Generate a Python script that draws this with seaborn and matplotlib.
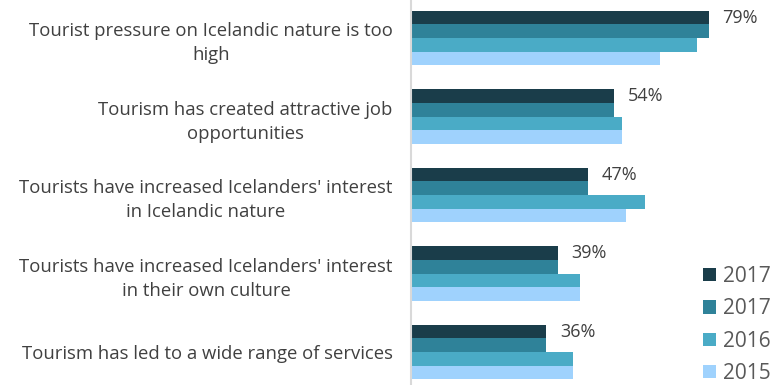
import pandas as pd
import matplotlib.pyplot as plt
import seaborn as sns
from matplotlib.patches import Patch

# statements (y categories)
statements = [
    "Tourist pressure on Icelandic nature is too\nhigh",
    "Tourism has created attractive job\nopportunities",
    "Tourists have increased Icelanders' interest\nin Icelandic nature",
    "Tourists have increased Icelanders' interest\nin their own culture",
    "Tourism has led to a wide range of services",
]

# series (two separate 2017 surveys)
series_keys = ["2017a", "2017b", "2016", "2015"]
series_labels = ["2017", "2017", "2016", "2015"]
vals_2017a = [79, 54, 47, 39, 36]
vals_2017b = [79, 54, 47, 39, 36]
vals_2016 = [76, 56, 62, 45, 43]
vals_2015 = [66, 56, 57, 45, 43]
colors = ["#1a3d4a", "#2f8299", "#4aabc6", "#9fd2fd"]

rows = []
for key, vals in zip(series_keys, [vals_2017a, vals_2017b, vals_2016, vals_2015]):
    for s, v in zip(statements, vals):
        rows.append({"statement": s, "series": key, "value": v})
df = pd.DataFrame(rows)

sns.set_style("white")
plt.rcParams["font.family"] = ["Open Sans", "DejaVu Sans"]

fig = plt.figure(figsize=(7.72, 3.85), dpi=100)
ax = fig.add_axes([0.532, 0.0, 0.468, 1.0])

sns.barplot(data=df, y="statement", x="value", hue="series",
            order=statements, hue_order=series_keys,
            palette=colors, width=0.69, gap=0, orient="h",
            saturation=1, legend=False, linewidth=0, ax=ax)

ax.set_xlim(0, 95.8)
ax.set_ylim(4.42, -0.484)
ax.set_xlabel("")
ax.set_ylabel("")
ax.set_xticks([])
ax.tick_params(axis="y", length=0, pad=13, labelsize=13.3, labelcolor="#404040")
for lbl in ax.get_yticklabels():
    lbl.set_horizontalalignment("right")
    lbl.set_multialignment("center")
    lbl.set_linespacing(1.45)

for side in ["top", "right", "bottom"]:
    ax.spines[side].set_visible(False)
ax.spines["left"].set_color("#d9d9d9")
ax.spines["left"].set_linewidth(1.5)

ax.bar_label(ax.containers[0], fmt="%d%%", padding=10,
             fontsize=13, color="#404040")

handles = [Patch(facecolor=c, edgecolor="none") for c in colors]
ax.legend(handles, series_labels, loc="lower right",
          bbox_to_anchor=(1.025, -0.025), frameon=False, fontsize=15,
          labelcolor="#595959", handlelength=0.6, handleheight=0.6,
          handletextpad=0.35, labelspacing=0.55, borderaxespad=0.1)

fig.savefig("out.png", dpi=100)
